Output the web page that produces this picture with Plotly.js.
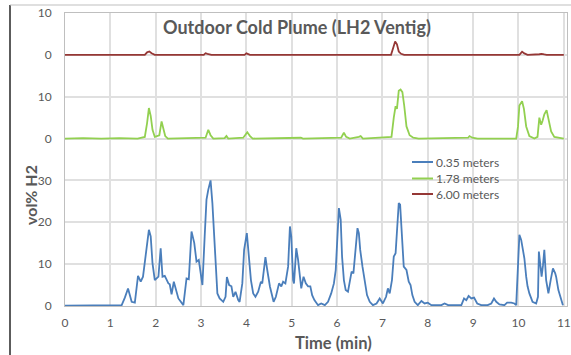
<!DOCTYPE html>
<html>
<head>
<meta charset="utf-8">
<script src="https://cdn.plot.ly/plotly-3.0.1.min.js"></script>
<style>html,body{margin:0;padding:0;background:#fff;}#chart{width:571px;height:355px;}</style>
</head>
<body>
<div id="chart"></div>
<script>
// Time (min) and vol% H2
const blueT = [0,0.5,1.0,1.25,1.32,1.39,1.47,1.54,1.61,1.67,1.72,1.78,1.85,1.89,1.93,1.98,2.06,2.11,2.15,2.20,
  2.28,2.31,2.35,2.40,2.50,2.61,2.68,2.73,2.79,2.85,2.90,2.95,3.00,3.03,3.08,3.12,3.16,3.21,3.25,3.29,
  3.32,3.36,3.41,3.49,3.54,3.57,3.62,3.67,3.71,3.76,3.82,3.85,3.91,3.95,4.01,4.05,4.10,4.15,4.20,4.26,
  4.32,4.35,4.42,4.46,4.52,4.60,4.65,4.72,4.77,4.81,4.86,4.92,4.96,4.99,5.03,5.05,5.10,5.14,5.18,5.21,
  5.26,5.31,5.36,5.41,5.45,5.50,5.58,5.65,5.73,5.80,5.87,5.93,5.97,6.01,6.04,6.08,6.11,6.15,6.19,6.24,
  6.28,6.32,6.36,6.41,6.45,6.48,6.51,6.56,6.61,6.66,6.72,6.79,6.87,6.94,7.01,7.08,7.12,7.16,7.21,7.25,
  7.29,7.33,7.36,7.39,7.43,7.47,7.53,7.58,7.62,7.66,7.71,7.78,7.86,7.93,8.00,8.08,8.30,8.37,8.45,8.74,
  8.80,8.85,8.90,8.96,9.02,9.09,9.18,9.32,9.40,9.46,9.51,9.58,9.69,9.75,9.84,9.91,9.95,9.97,10.00,10.02,
  10.06,10.10,10.13,10.17,10.20,10.24,10.31,10.39,10.43,10.45,10.48,10.51,10.54,10.57,10.61,10.66,10.71,10.76,10.81,10.83,
  10.88,10.94,10.98];
const blueV = [0.1,0.1,0.1,0.2,2.0,4.2,1.0,0.8,7.2,5.8,7.0,11.8,18.2,16.6,10.2,6.2,7.0,13.8,7.0,7.2,
  5.4,5.2,2.8,5.8,1.8,0.2,6.6,6.4,17.8,15.1,10.6,11.0,7.8,5.0,16.6,25.4,27.8,30.0,24.6,16.6,
  9.4,3.0,1.8,1.0,2.2,6.9,5.0,4.7,2.2,3.4,1.4,1.0,5.4,13.4,17.4,11.8,6.2,3.0,2.2,3.4,
  5.8,5.4,11.7,8.6,4.6,1.0,2.2,5.4,4.7,5.8,5.4,9.4,19.0,16.6,6.2,5.4,13.8,11.0,6.2,4.2,
  7.0,5.4,4.7,4.7,2.6,1.4,0.2,0.6,0.2,1.0,3.0,5.4,8.6,16.6,23.4,20.6,11.8,6.2,3.8,3.4,
  6.2,8.2,7.8,13.8,18.6,17.4,13.4,9.4,5.4,2.6,1.0,0.2,0.6,1.8,0.6,2.2,4.2,3.0,6.2,11.8,
  12.6,18.2,24.6,24.2,16.6,9.4,8.6,5.8,5.0,2.6,1.0,0.2,1.2,0.6,0.8,0.2,0.2,0.6,0.2,0.2,
  1.8,1.4,2.4,1.8,2.0,0.6,0.2,0.2,0.6,1.8,1.0,0.4,0.2,0.8,0.8,0.6,0.2,6.2,13.4,17.0,
  15.8,13.4,11.4,7.0,4.7,3.0,1.0,0.6,2.2,13.0,9.4,7.0,9.7,13.4,6.2,3.0,6.2,9.0,7.8,7.0,
  3.8,1.4,0.2];

const greenT = [0,0.4,0.8,1.2,1.6,1.76,1.81,1.85,1.89,1.93,1.98,2.08,2.13,2.16,2.21,2.27,3.10,3.16,3.21,3.27,
  3.52,3.56,3.60,3.93,4.02,4.08,4.14,5.20,5.25,6.09,6.15,6.20,6.28,6.48,6.52,6.57,7.20,7.25,7.29,7.32,
  7.36,7.40,7.44,7.48,7.53,7.60,7.68,7.80,8.89,8.92,8.98,9.10,9.95,9.99,10.02,10.08,10.12,10.17,10.24,10.35,
  10.42,10.46,10.50,10.53,10.57,10.62,10.67,10.72,10.79,10.94,11.0];
const greenV = [0,0.1,0,0.1,0,0.4,3.7,7.3,5.4,2.1,0.4,0.8,4.1,2.9,0.6,0,0.2,2.1,0.8,0,
  0.1,0.6,0,0.2,1.5,0.6,0,0.2,0,0.2,1.4,0.4,0,0.4,0.6,0,0.4,5.0,7.75,7.1,
  11.4,11.7,11.1,7.9,2.9,0.8,0.2,0,0.2,0.6,0.2,0,0,2.9,7.9,8.9,7.1,2.9,0.6,0,
  0.4,5.0,3.3,4.2,5.8,6.8,4.6,1.7,0.4,0,0];

const redT = [0,1.76,1.81,1.86,1.91,1.98,3.06,3.10,3.14,3.23,3.96,4.00,4.08,7.19,7.25,7.28,7.32,7.36,7.41,7.48,
  10.02,10.08,10.13,10.20,10.46,10.51,10.57,10.62,11.0];
const redV = [0,0,0.6,0.8,0.4,0,0,0.4,0.25,0,0,0.35,0,0,2.1,3.2,2.5,0.8,0.25,0,
  0,0.75,0.35,0,0.15,0.25,0.1,0,0];

const seriesNames = ["0.35 meters","1.78 meters","6.00 meters"];
const seriesColors = ['#4a7ebb', '#92d050', '#953735'];
const yTickVals = [0,10,20,30,40,50,60,70];
const yTickText = ["0","10","20","30","0","10","0","10"];
const xTickVals = [0,1,2,3,4,5,6,7,8,9,10,11];

// vertical stacking offsets of the three sensor heights on the shared axis
const greenOffset = 40, redOffset = 60;

const traces = [
  {x: blueT, y: blueV, name: seriesNames[0], type: 'scatter', mode: 'lines',
   line: {color: seriesColors[0], width: 1.8}},
  {x: greenT, y: greenV.map(v => v + greenOffset), name: seriesNames[1], type: 'scatter', mode: 'lines',
   line: {color: seriesColors[1], width: 1.8}},
  {x: redT, y: redV.map(v => v + redOffset), name: seriesNames[2], type: 'scatter', mode: 'lines',
   line: {color: seriesColors[2], width: 1.8}}
];

const FONT = 'Lato, "Open Sans", sans-serif';
const px2x = p => (p - 65) / 502;
const px2y = p => (306 - p) / 293;

const annotations = [
  {text: '<b>Outdoor Cold Plume (LH2 Ventig)</b>', xref: 'paper', yref: 'paper',
   x: px2x(297), y: px2y(27), xanchor: 'center', yanchor: 'middle', showarrow: false,
   font: {family: FONT, size: 18, color: '#595959'}},
  {text: '<b>vol% H2</b>', xref: 'paper', yref: 'paper', textangle: -90,
   x: px2x(30), y: px2y(195), xanchor: 'center', yanchor: 'middle', showarrow: false,
   font: {family: FONT, size: 16, color: '#595959'}},
  {text: '<b>Time (min)</b>', xref: 'paper', yref: 'paper',
   x: px2x(333), y: px2y(343), xanchor: 'center', yanchor: 'middle', showarrow: false,
   font: {family: FONT, size: 16.5, color: '#595959'}}
];
const shapes = [
  {type: 'line', xref: 'paper', yref: 'paper', x0: px2x(10), x1: px2x(10),
   y0: px2y(5), y1: px2y(356), line: {color: '#262626', width: 1.5}},
  {type: 'line', xref: 'paper', yref: 'paper', x0: px2x(10), x1: px2x(572),
   y0: px2y(5), y1: px2y(5), line: {color: '#bfbfbf', width: 1}}
];
// legend drawn as line samples + labels
const legendRows = [162, 178.5, 194];
seriesNames.forEach((nm, i) => {
  shapes.push({type: 'line', xref: 'paper', yref: 'paper', x0: px2x(412), x1: px2x(433),
    y0: px2y(legendRows[i]), y1: px2y(legendRows[i]), line: {color: seriesColors[i], width: 2}});
  annotations.push({text: nm, xref: 'paper', yref: 'paper', x: px2x(434), y: px2y(legendRows[i]),
    xanchor: 'left', yanchor: 'middle', showarrow: false, font: {family: FONT, size: 12, color: '#595959'}});
});

const layout = {
  width: 571, height: 355,
  margin: {l: 65, r: 4, t: 13, b: 49},
  paper_bgcolor: '#ffffff', plot_bgcolor: '#ffffff',
  font: {family: FONT, color: '#595959', size: 12},
  showlegend: false,
  xaxis: {range: [0, 11.07], tickvals: xTickVals, showgrid: true, gridcolor: '#e0e0e0', gridwidth: 2,
    zeroline: false, showline: true, linecolor: '#bfbfbf', linewidth: 1, mirror: true,
    ticks: '', tickfont: {family: FONT, size: 12, color: '#595959'}, ticklabelstandoff: 6},
  yaxis: {range: [0, 70], tickvals: yTickVals, ticktext: yTickText, showgrid: true, gridcolor: '#e0e0e0', gridwidth: 2,
    zeroline: false, showline: true, linecolor: '#bfbfbf', linewidth: 1, mirror: true,
    ticks: '', tickfont: {family: FONT, size: 12, color: '#595959'}, ticklabelstandoff: 10},
  annotations: annotations,
  shapes: shapes
};

Plotly.newPlot('chart', traces, layout, {displayModeBar: false, staticPlot: true});
</script>
</body>
</html>
